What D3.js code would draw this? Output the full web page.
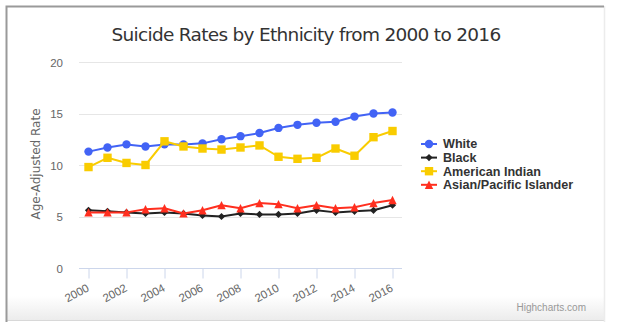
<!DOCTYPE html>
<html>
<head>
<meta charset="utf-8">
<script src="https://cdn.jsdelivr.net/npm/d3@7/dist/d3.min.js"></script>
<style>
  body { margin: 0; background: #fff; }
  svg { display: block; font-family: "Liberation Sans", Arial, sans-serif; }
</style>
</head>
<body>
<script>
// chart data
var years = [2000, 2001, 2002, 2003, 2004, 2005, 2006, 2007, 2008, 2009, 2010, 2011, 2012, 2013, 2014, 2015, 2016];
var white = [11.3, 11.7, 12.0, 11.8, 12.0, 12.0, 12.1, 12.5, 12.8, 13.1, 13.6, 13.9, 14.1, 14.2, 14.7, 15.0, 15.1];
var black = [5.6, 5.5, 5.4, 5.3, 5.4, 5.3, 5.1, 5.0, 5.3, 5.2, 5.2, 5.3, 5.6, 5.4, 5.5, 5.6, 6.1];
var amIndian = [9.8, 10.7, 10.2, 10.0, 12.3, 11.8, 11.6, 11.5, 11.7, 11.9, 10.8, 10.6, 10.7, 11.6, 10.9, 12.7, 13.3];
var asian = [5.4, 5.4, 5.4, 5.7, 5.8, 5.3, 5.6, 6.1, 5.8, 6.3, 6.2, 5.8, 6.1, 5.8, 5.9, 6.3, 6.6];
var yTicks = [0, 5, 10, 15, 20];
var xTicks = [2000, 2002, 2004, 2006, 2008, 2010, 2012, 2014, 2016];

var seriesNames = ["White", "Black", "American Indian", "Asian/Pacific Islander"];
var seriesColors = ["#4263f5", "#222222", "#f9cc00", "#ff2f1f"];
var series = [white, black, amIndian, asian];

// highcharts-like marker shapes, r = half width
var diamond = {draw: function(ctx, r) {
    ctx.moveTo(0, -r); ctx.lineTo(r, 0); ctx.lineTo(0, r); ctx.lineTo(-r, 0); ctx.closePath();
}};
var triangle = {draw: function(ctx, r) {
    ctx.moveTo(0, -r); ctx.lineTo(r, r); ctx.lineTo(-r, r); ctx.closePath();
}};
var square = {draw: function(ctx, r) {
    ctx.rect(-r, -r, 2 * r, 2 * r);
}};
var circle = {draw: function(ctx, r) {
    ctx.moveTo(r, 0); ctx.arc(0, 0, r, 0, 2 * Math.PI);
}};
var seriesSymbols = [circle, diamond, square, triangle];
var symbolRadius = [4.2, 3.6, 4.2, 4.2];

var width = 627, height = 322;
var plot = {left: 79, right: 402, top: 62, bottom: 268};

var svg = d3.select("body").append("svg")
    .attr("width", width)
    .attr("height", height);

// background frame with bottom shading
var defs = svg.append("defs");
var grad = defs.append("linearGradient")
    .attr("id", "bottomShade")
    .attr("x1", 0).attr("y1", 0).attr("x2", 0).attr("y2", 1);
grad.append("stop").attr("offset", "0%").attr("stop-color", "#fff");
grad.append("stop").attr("offset", "100%").attr("stop-color", "#ececec");

svg.append("rect")
    .attr("x", 6).attr("y", 296)
    .attr("width", 599).attr("height", 24)
    .attr("fill", "url(#bottomShade)");
svg.append("line")
    .attr("x1", 6).attr("x2", 605).attr("y1", 320.5).attr("y2", 320.5)
    .attr("stroke", "#d8d8d8");
svg.append("line")
    .attr("x1", 604.5).attr("x2", 604.5).attr("y1", 6).attr("y2", 322)
    .attr("stroke", "#ececec").attr("stroke-width", 1.5);
svg.append("path")
    .attr("d", "M6.5,322V6.5H604")
    .attr("fill", "none")
    .attr("stroke", "#9a9a9a")
    .attr("stroke-width", 2);

// scales
var x = d3.scalePoint()
    .domain(years)
    .range([plot.left, plot.right])
    .padding(0.5);

var y = d3.scaleLinear()
    .domain([0, 20])
    .range([plot.bottom, plot.top]);

// gridlines
svg.append("g")
    .selectAll("line")
    .data(yTicks.filter(d => d > 0))
    .enter().append("line")
    .attr("x1", plot.left).attr("x2", plot.right)
    .attr("y1", d => Math.round(y(d)) + 0.5)
    .attr("y2", d => Math.round(y(d)) + 0.5)
    .attr("stroke", "#e6e6e6");

// y axis labels
var yAxis = svg.append("g")
    .attr("transform", "translate(" + plot.left + ",0)")
    .call(d3.axisLeft(y).tickValues(yTicks).tickSize(0).tickPadding(16));
yAxis.select(".domain").remove();
yAxis.selectAll("text")
    .attr("fill", "#666")
    .style("font-size", "11.5px")
    .attr("dy", "0.35em");

svg.append("text")
    .attr("transform", "translate(40," + ((plot.top + plot.bottom) / 2 - 1) + ") rotate(-90)")
    .attr("text-anchor", "middle")
    .attr("fill", "#666")
    .style("font-size", "12px")
    .style("font-family", "'DejaVu Sans', sans-serif")
    .text("Age-Adjusted Rate");

// x axis
var xAxis = svg.append("g")
    .attr("transform", "translate(0," + (plot.bottom + 0.5) + ")")
    .call(d3.axisBottom(x).tickValues(xTicks).tickSize(10).tickSizeOuter(0));
xAxis.select(".domain")
    .attr("d", "M" + plot.left + ",0H" + plot.right)
    .attr("stroke", "#ccd6eb");
xAxis.selectAll(".tick line").attr("stroke", "#ccd6eb");
xAxis.selectAll(".tick text")
    .attr("fill", "#666")
    .style("font-size", "11.5px")
    .attr("text-anchor", "end")
    .attr("y", 0)
    .attr("dy", 0)
    .attr("transform", "translate(1,22) rotate(-28)");

// lines and markers
var line = d3.line()
    .x((d, i) => x(years[i]))
    .y(d => y(d));

series.forEach(function(vals, s) {
    var g = svg.append("g");
    g.append("path")
        .datum(vals)
        .attr("d", line)
        .attr("fill", "none")
        .attr("stroke", seriesColors[s])
        .attr("stroke-width", 2)
        .attr("stroke-linejoin", "round");
    g.selectAll("path.marker")
        .data(vals)
        .enter().append("path")
        .attr("class", "marker")
        .attr("d", d3.symbol().type(seriesSymbols[s]).size(symbolRadius[s]))
        .attr("transform", (d, i) => "translate(" + x(years[i]) + "," + y(d) + ")")
        .attr("fill", seriesColors[s]);
});

// title
svg.append("text")
    .attr("x", 306)
    .attr("y", 41)
    .attr("text-anchor", "middle")
    .attr("fill", "#333")
    .style("font-size", "18.5px")
    .style("font-family", "'DejaVu Sans', sans-serif")
    .style("letter-spacing", "-0.7px")
    .text("Suicide Rates by Ethnicity from 2000 to 2016");

// legend
var legend = svg.append("g")
    .attr("transform", "translate(421,144)");
var item = legend.selectAll("g")
    .data(seriesNames)
    .enter().append("g")
    .attr("transform", (d, i) => "translate(0," + (i * 13.6) + ")");
item.append("line")
    .attr("x1", 0).attr("x2", 16)
    .attr("stroke", (d, i) => seriesColors[i])
    .attr("stroke-width", 2);
item.append("path")
    .attr("d", (d, i) => d3.symbol().type(seriesSymbols[i]).size(symbolRadius[i])())
    .attr("transform", "translate(8,0)")
    .attr("fill", (d, i) => seriesColors[i]);
item.append("text")
    .attr("x", 22)
    .attr("dy", "0.35em")
    .attr("fill", "#333")
    .style("font-size", "12.6px")
    .style("font-weight", "bold")
    .text(d => d);

// credits
svg.append("text")
    .attr("x", 586)
    .attr("y", 311)
    .attr("text-anchor", "end")
    .attr("fill", "#999")
    .style("font-size", "10px")
    .text("Highcharts.com");
</script>
</body>
</html>
